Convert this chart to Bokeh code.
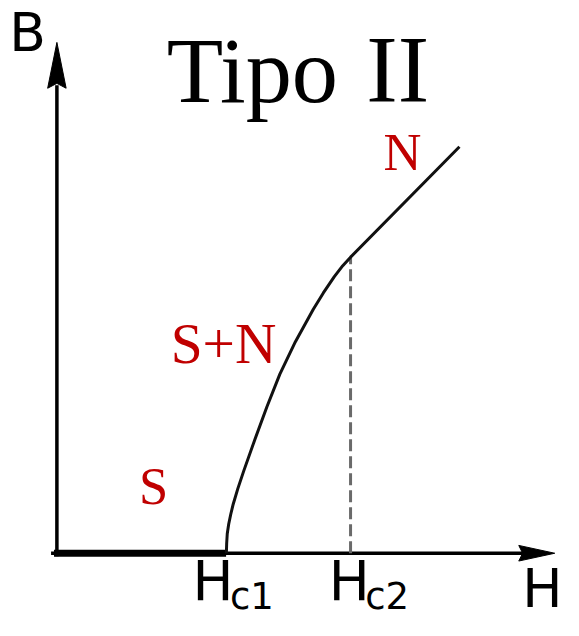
from bokeh.plotting import figure
from bokeh.models import Range1d
from bokeh.core.properties import value
from bokeh.embed import file_html
from bokeh.resources import INLINE

# --- data (arbitrary units, origin at axis crossing) ---
HC1 = 1.74
HC2 = 3.02
# B(H): mixed state (S+N) from Hc1 to Hc2, then normal state (N)
curve_H = [1.743, 1.746, 1.752, 1.767, 1.788, 1.813, 1.86, 1.92, 2.037, 2.16, 2.293,
           2.453, 2.637, 2.74, 2.853, 2.94, 3.02, 4.14]
curve_B = [0.0, 0.10, 0.20, 0.30, 0.40, 0.503, 0.66, 0.84, 1.17, 1.503, 1.837,
           2.17, 2.503, 2.67, 2.837, 2.95, 3.037, 4.17]
# Meissner state: B = 0 up to Hc1
meissner_H = [-0.03, HC1]
meissner_B = [0.0, 0.0]

# axis extents
H_AXIS = [-0.06, 4.80]
B_AXIS = [-0.03, 4.80]
H_TIP = 5.12
B_TIP = 5.24

W, H = 563, 620
X0, X1 = -0.58, 5.21
Y0, Y1 = -0.69, 5.67
p = figure(width=W, height=H, output_backend="svg", toolbar_location=None,
           x_range=Range1d(X0, X1), y_range=Range1d(Y0, Y1),
           min_border=0)
p.axis.visible = False
p.grid.visible = False
p.outline_line_color = None
p.background_fill_color = "white"
p.border_fill_color = "white"

k = 0.973  # size scale relative to reference pixels
ppu = H / (Y1 - Y0)  # pixels per data unit vertically

# axes
p.line(H_AXIS, [0, 0], line_color="black", line_width=3.5)
p.line([0, 0], B_AXIS, line_color="black", line_width=3.5)
# arrowheads
p.patch([H_TIP, H_TIP - 0.37, H_TIP - 0.33, H_TIP - 0.37],
        [0, 0.08, 0, -0.08], fill_color="black", line_color="black", line_width=1)
p.patch([0, 0.095, 0, -0.095],
        [B_TIP, B_TIP - 0.47, B_TIP - 0.42, B_TIP - 0.47],
        fill_color="black", line_color="black", line_width=1)

# dashed Hc2 line
p.line([HC2, HC2], [0, 3.037], line_color="#6a6a6a", line_width=3, line_dash="12 5")

# Meissner segment and curve
p.line(meissner_H, meissner_B, line_color="black", line_width=7)
p.line(curve_H, curve_B, line_color="#111111", line_width=3, line_join="round")

serif = value("Liberation Serif")
sans = value("DejaVu Sans")
red = "#C00000"


def label(x, y, txt, font, size, color, align):
    px = size * k
    ys = [yy + 0.36 * px / ppu for yy in y]  # baseline correction
    p.text(x=x, y=ys, text=txt, text_font=font, text_font_size=f"{px:.1f}px",
           text_color=color, text_baseline="alphabetic", text_align=align)


label([1.13], [4.61], ["Tipo"], serif, 95, "black", "left")
label([3.505], [4.61], ["II"], serif, 97, "black", "center")
label([1.17], [1.94], ["S+N"], serif, 59, red, "left")
label([0.995], [0.50], ["S"], serif, 54, red, "center")
label([3.555], [3.92], ["N"], serif, 54, red, "center")

label([-0.30], [5.14], ["B"], sans, 55, "black", "center")
label([5.20], [-0.56], ["H"], sans, 55, "black", "right")

label([1.395, 2.795], [-0.49, -0.49], ["H", "H"], sans, 56, "black", "left")
label([1.78, 3.17], [-0.58, -0.58], ["c1", "c2"], sans, 38, "black", "left")

open("out.html", "w").write(file_html(p, INLINE))
